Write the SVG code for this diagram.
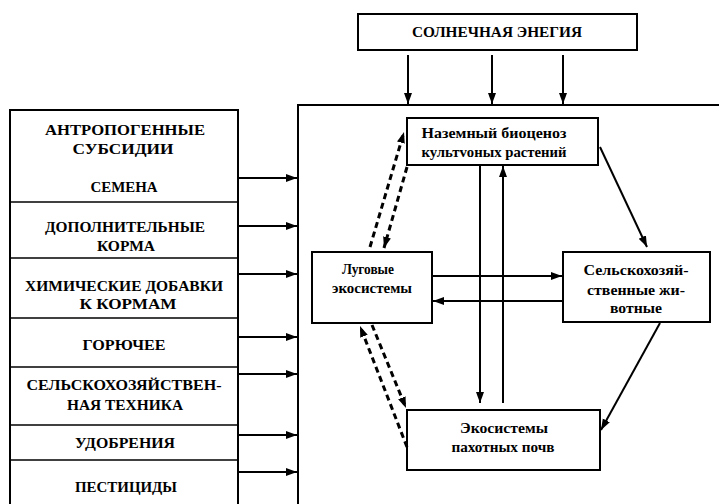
<svg xmlns="http://www.w3.org/2000/svg" width="719" height="504" viewBox="0 0 719 504">
<defs>
<marker id="ah" markerUnits="userSpaceOnUse" markerWidth="12" markerHeight="9" refX="11" refY="4" orient="auto">
<path d="M0,0 L11,4 L0,8 z" fill="#000"/>
</marker>
<style>
.box{fill:#fff;stroke:#000;stroke-width:2}
.div{stroke:#000;stroke-width:1.5}
.cap{font-family:"Liberation Serif","DejaVu Serif",serif;font-weight:bold;font-size:15px;text-anchor:middle;fill:#000}
.lc{font-family:"Liberation Serif","DejaVu Serif",serif;font-weight:bold;font-size:14px;text-anchor:middle;fill:#000}
.ln{stroke:#000;stroke-width:2;fill:none;marker-end:url(#ah)}
.dash{stroke:#000;stroke-width:3;fill:none;stroke-dasharray:6,4;marker-end:url(#ah)}
</style>
</defs>
<rect width="719" height="504" fill="#fff"/>

<g id="sun">
<rect class="box" x="358" y="14" width="279" height="36"/>
<text class="cap" x="497" y="37" textLength="170" lengthAdjust="spacingAndGlyphs">СОЛНЕЧНАЯ ЭНЕГИЯ</text>
</g>

<g id="system">
<rect class="box" x="298" y="105" width="430" height="410"/>
</g>

<g id="subsidies">
<rect class="box" x="10" y="110" width="228" height="405" stroke-width="2.5"/>
<line class="div" x1="10" y1="202" x2="238" y2="202"/>
<line class="div" x1="10" y1="258" x2="238" y2="258"/>
<line class="div" x1="10" y1="318" x2="238" y2="318"/>
<line class="div" x1="10" y1="367" x2="238" y2="367"/>
<line class="div" x1="10" y1="425" x2="238" y2="425"/>
<line class="div" x1="10" y1="460" x2="238" y2="460"/>
<text class="cap" x="125" y="135" textLength="160" lengthAdjust="spacingAndGlyphs">АНТРОПОГЕННЫЕ</text>
<text class="cap" x="123" y="154" textLength="101" lengthAdjust="spacingAndGlyphs">СУБСИДИИ</text>
<text class="cap" x="124" y="192" textLength="67" lengthAdjust="spacingAndGlyphs">СЕМЕНА</text>
<text class="cap" x="125" y="232" textLength="160" lengthAdjust="spacingAndGlyphs">ДОПОЛНИТЕЛЬНЫЕ</text>
<text class="cap" x="126" y="251" textLength="58" lengthAdjust="spacingAndGlyphs">КОРМА</text>
<text class="cap" x="124" y="291" textLength="198" lengthAdjust="spacingAndGlyphs">ХИМИЧЕСКИЕ ДОБАВКИ</text>
<text class="cap" x="128" y="309" textLength="97" lengthAdjust="spacingAndGlyphs">К КОРМАМ</text>
<text class="cap" x="124" y="350" textLength="83" lengthAdjust="spacingAndGlyphs">ГОРЮЧЕЕ</text>
<text class="cap" x="124" y="390" textLength="195" lengthAdjust="spacingAndGlyphs">СЕЛЬСКОХОЗЯЙСТВЕН-</text>
<text class="cap" x="125" y="410" textLength="116" lengthAdjust="spacingAndGlyphs">НАЯ ТЕХНИКА</text>
<text class="cap" x="125" y="448" textLength="100" lengthAdjust="spacingAndGlyphs">УДОБРЕНИЯ</text>
<text class="cap" x="126" y="492" textLength="102" lengthAdjust="spacingAndGlyphs">ПЕСТИЦИДЫ</text>
</g>

<g id="crops">
<rect class="box" x="407" y="118" width="191" height="47"/>
<text class="lc" x="494" y="138" textLength="145" lengthAdjust="spacingAndGlyphs">Наземный биоценоз</text>
<text class="lc" x="494" y="157" textLength="145" lengthAdjust="spacingAndGlyphs">культvоных растений</text>
</g>

<g id="meadow">
<rect class="box" x="312" y="252" width="120" height="71"/>
<text class="lc" x="368" y="274" textLength="52" lengthAdjust="spacingAndGlyphs">Луговые</text>
<text class="lc" x="372" y="293" textLength="80" lengthAdjust="spacingAndGlyphs">экосистемы</text>
</g>

<g id="animals">
<rect class="box" x="563" y="252" width="147" height="70"/>
<text class="lc" x="636" y="275" textLength="105" lengthAdjust="spacingAndGlyphs">Сельскохозяй-</text>
<text class="lc" x="636" y="295" textLength="98" lengthAdjust="spacingAndGlyphs">ственные жи-</text>
<text class="lc" x="636" y="313" textLength="52" lengthAdjust="spacingAndGlyphs">вотные</text>
</g>

<g id="soil">
<rect class="box" x="407" y="410" width="193" height="60"/>
<text class="lc" x="504" y="433" textLength="88" lengthAdjust="spacingAndGlyphs">Экосистемы</text>
<text class="lc" x="503" y="452" textLength="103" lengthAdjust="spacingAndGlyphs">пахотных почв</text>
</g>

<g id="connectors">
<line class="ln" x1="408" y1="55" x2="408" y2="104"/>
<line class="ln" x1="492" y1="55" x2="492" y2="104"/>
<line class="ln" x1="563" y1="55" x2="563" y2="104"/>
<line class="ln" x1="239" y1="178" x2="297" y2="178"/>
<line class="ln" x1="239" y1="226" x2="297" y2="226"/>
<line class="ln" x1="239" y1="274" x2="297" y2="274"/>
<line class="ln" x1="239" y1="337" x2="297" y2="337"/>
<line class="ln" x1="239" y1="374" x2="297" y2="374"/>
<line class="ln" x1="239" y1="435" x2="297" y2="435"/>
<line class="ln" x1="239" y1="472" x2="297" y2="472"/>
<line class="ln" x1="480" y1="165" x2="480" y2="403"/>
<line class="ln" x1="503" y1="403" x2="503" y2="166"/>
<line class="ln" x1="433" y1="276" x2="562" y2="276"/>
<line class="ln" x1="563" y1="301" x2="433" y2="301"/>
<line class="ln" x1="600" y1="147" x2="647" y2="247"/>
<line class="ln" x1="660" y1="323" x2="601" y2="430"/>
<line class="dash" x1="370" y1="247" x2="404" y2="132"/>
<line class="dash" x1="407" y1="167" x2="384" y2="248"/>
<line class="dash" x1="407" y1="447" x2="360" y2="326"/>
<line class="dash" x1="372" y1="325" x2="406" y2="408"/>
</g>
</svg>
